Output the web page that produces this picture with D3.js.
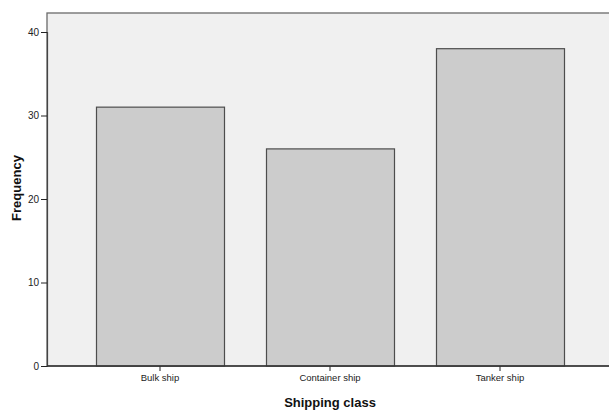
<!DOCTYPE html>
<html>
<head>
<meta charset="utf-8">
<script src="https://cdn.jsdelivr.net/npm/d3@7"></script>
<style>
html,body{margin:0;padding:0;background:#fff;}
svg{display:block;}
text{font-family:"Liberation Sans",Arial,sans-serif;}
</style>
</head>
<body>
<script>
const categories = ["Bulk ship", "Container ship", "Tanker ship"];
const frequencies = [31, 26, 38];
const yTicks = [0, 10, 20, 30, 40];

const W = 609, H = 410;
const frame = {left: 47, top: 13, right: 612, bottom: 366};

const svg = d3.select("body").append("svg").attr("width", W).attr("height", H);

const y = d3.scaleLinear().domain([0, 40]).range([366, 32]);
const x = d3.scaleBand().domain(categories).range([75, 585])
  .paddingInner(0.247).paddingOuter(0.1235);

// plot background
svg.append("rect")
  .attr("x", frame.left).attr("y", frame.top)
  .attr("width", frame.right - frame.left).attr("height", frame.bottom - frame.top)
  .attr("fill", "#f0f0f0").attr("stroke", "#6a6a6a").attr("stroke-width", 1.3);

// bars
svg.append("g").selectAll("rect").data(categories).join("rect")
  .attr("x", d => x(d) + 0.5)
  .attr("y", (d, i) => y(frequencies[i]))
  .attr("width", x.bandwidth())
  .attr("height", (d, i) => y(0) - y(frequencies[i]))
  .attr("fill", "#cccccc").attr("stroke", "#4d4d4d").attr("stroke-width", 1.2);

// y axis
const yAxis = svg.append("g").attr("transform", `translate(${frame.left},0)`)
  .call(d3.axisLeft(y).tickValues(yTicks).tickSize(6).tickPadding(2).tickFormat(d3.format("d")));
yAxis.select(".domain").attr("stroke", "#444").attr("stroke-width", 1.2);
yAxis.selectAll(".tick line").attr("stroke", "#222");
yAxis.selectAll(".tick text").attr("font-size", 10).attr("fill", "#222")
  .attr("font-family", "Liberation Sans, Arial, sans-serif");

// x axis
const xAxis = svg.append("g").attr("transform", `translate(0,${frame.bottom})`)
  .call(d3.axisBottom(x).tickSize(5).tickPadding(3));
xAxis.select(".domain").remove();
svg.append("line").attr("x1", frame.left).attr("x2", W + 5)
  .attr("y1", frame.bottom).attr("y2", frame.bottom)
  .attr("stroke", "#333").attr("stroke-width", 1.3);
xAxis.selectAll(".tick line").attr("stroke", "#222");
xAxis.selectAll(".tick text").attr("font-size", 9.5).attr("fill", "#222")
  .attr("font-family", "Liberation Sans, Arial, sans-serif");

// axis titles
svg.append("text").attr("x", 330).attr("y", 407)
  .attr("text-anchor", "middle").attr("font-size", 13).attr("font-weight", "bold")
  .attr("fill", "#111").text("Shipping class");
svg.append("text").attr("transform", "translate(21,188) rotate(-90)")
  .attr("text-anchor", "middle").attr("font-size", 13).attr("font-weight", "bold")
  .attr("fill", "#111").text("Frequency");
</script>
</body>
</html>
